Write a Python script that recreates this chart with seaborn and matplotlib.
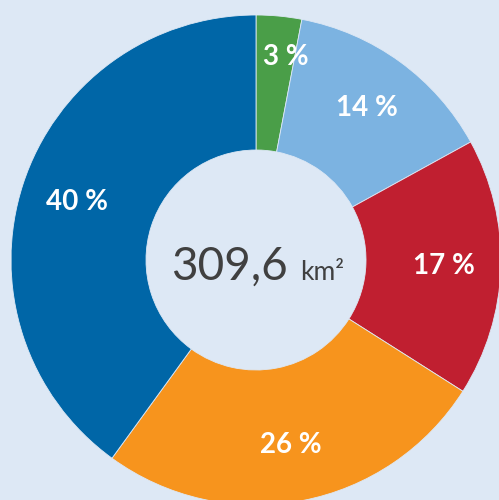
import numpy as np
import matplotlib
matplotlib.use("Agg")
import matplotlib.pyplot as plt
import seaborn as sns

# ==========================
# DATA
# ==========================
shares = [3, 14, 17, 26, 40]
labels = ["3 %", "14 %", "17 %", "26 %", "40 %"]
colors = ["#4a9e48", "#7cb3e1", "#c01f30", "#f7941d", "#0066a7"]
total_value = "309,6"
total_unit = "km²"

BG = "#dde8f5"

sns.set_style("white")
plt.rcParams["font.family"] = ["Lato", "DejaVu Sans"]

# ==========================
# FIGURE
# ==========================
fig = plt.figure(figsize=(4.99, 5.0), dpi=100, facecolor=BG)
ax = fig.add_axes([0, 0, 1, 1])
ax.set_facecolor(BG)

R = 245
r_in = 110

wedges, _ = ax.pie(
    shares,
    colors=colors,
    startangle=90,
    counterclock=False,
    radius=R,
    wedgeprops=dict(width=R - r_in, edgecolor=BG, linewidth=0.6),
)

# percentage labels
cum = np.cumsum([0] + shares[:-1])
for s, c, lab in zip(shares, cum, labels):
    mid = (c + s / 2) / 100 * 360
    if s < 5:
        mid += 3
        rr = 205
    else:
        rr = 188
    ang = np.deg2rad(90 - mid)
    ax.text(rr * np.cos(ang), rr * np.sin(ang), lab, ha="center", va="center",
            color="white", fontsize=20, fontweight="bold")

# centre total
ax.text(32, -20, total_value, ha="right", va="baseline", fontsize=33,
        color="#404040")
ax.text(44, -20, total_unit, ha="left", va="baseline", fontsize=19,
        color="#404040")

ax.set_xlim(-256, 499 - 256)
ax.set_ylim(-(500 - 260), 260)
ax.set_aspect("equal")
ax.axis("off")

plt.savefig("out.png", dpi=100, facecolor=BG)
plt.close()
